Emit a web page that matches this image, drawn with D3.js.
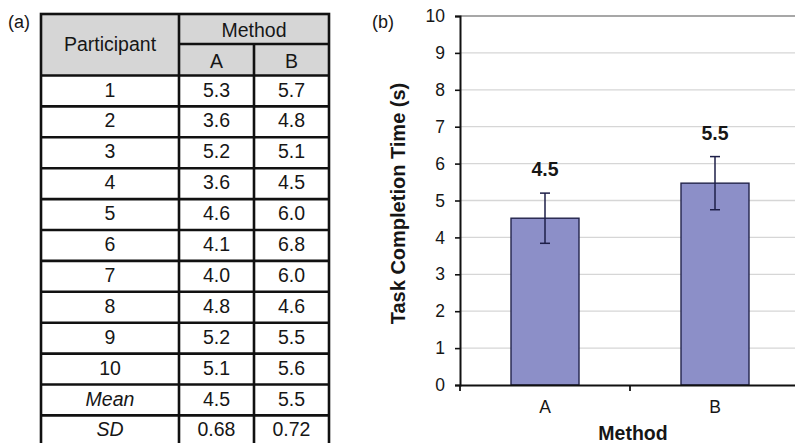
<!DOCTYPE html>
<html>
<head>
<meta charset="utf-8">
<script src="https://cdn.jsdelivr.net/npm/d3@7"></script>
<style>
  html, body { margin: 0; padding: 0; background: #fff; }
  svg { display: block; font-family: "Liberation Sans", Arial, sans-serif; }
</style>
</head>
<body>
<svg id="chart" width="795" height="443"></svg>
<script>
// ---------- data ----------
const rowLabels = ["1", "2", "3", "4", "5", "6", "7", "8", "9", "10", "Mean", "SD"];
const methodAValues = ["5.3", "3.6", "5.2", "3.6", "4.6", "4.1", "4.0", "4.8", "5.2", "5.1", "4.5", "0.68"];
const methodBValues = ["5.7", "4.8", "5.1", "4.5", "6.0", "6.8", "6.0", "4.6", "5.5", "5.6", "5.5", "0.72"];
const methods = ["A", "B"];
const meanValues = [4.52, 5.47];
const sdValues = [0.68, 0.72];
const meanLabels = ["4.5", "5.5"];
const yTickValues = [0, 1, 2, 3, 4, 5, 6, 7, 8, 9, 10];

const svg = d3.select("#chart");

// ---------- (a) table ----------
const tbl = svg.append("g");
const colEdges = [41, 179, 254, 329];
const colKeys = ["P", "A", "B"];
const colLeft = d3.scaleOrdinal().domain(colKeys).range(colEdges.slice(0, 3));
const colRight = d3.scaleOrdinal().domain(colKeys).range(colEdges.slice(1));
const colMid = k => (colLeft(k) + colRight(k)) / 2;

const headTop = 14, headMid = 44, bodyTop = 75.5, rowH = 30.9;
const rowY = d3.scaleBand().domain(rowLabels).range([bodyTop, bodyTop + rowH * rowLabels.length]);

// header fill
tbl.append("rect").attr("x", colEdges[0]).attr("y", headTop)
  .attr("width", colEdges[3] - colEdges[0]).attr("height", bodyTop - headTop)
  .attr("fill", "#d6d6d6");

const lineStyle = sel => sel.attr("stroke", "#111").attr("stroke-width", 2.6).attr("fill", "none");

// horizontal lines
tbl.append("line").attr("x1", colEdges[1]).attr("x2", colEdges[3]).attr("y1", headMid).attr("y2", headMid).call(lineStyle);
tbl.selectAll(".hrow").data(rowLabels).join("line")
  .attr("x1", colEdges[0]).attr("x2", colEdges[3])
  .attr("y1", d => rowY(d)).attr("y2", d => rowY(d)).call(lineStyle);
// vertical lines
tbl.append("line").attr("x1", colEdges[1]).attr("x2", colEdges[1]).attr("y1", headTop).attr("y2", 460).call(lineStyle);
tbl.append("line").attr("x1", colEdges[2]).attr("x2", colEdges[2]).attr("y1", headMid).attr("y2", 460).call(lineStyle);
// outer border
tbl.append("rect").attr("x", colEdges[0]).attr("y", headTop)
  .attr("width", colEdges[3] - colEdges[0]).attr("height", 460 - headTop).call(lineStyle);

const tFont = sel => sel.attr("font-size", 19.5).attr("fill", "#161616").attr("text-anchor", "middle");
tbl.append("text").attr("x", colMid("P")).attr("y", 51).text("Participant").call(tFont);
tbl.append("text").attr("x", (colEdges[1] + colEdges[3]) / 2).attr("y", 36.5).text("Method").call(tFont);
methods.forEach(m => {
  tbl.append("text").attr("x", colMid(m)).attr("y", 67.5).text(m).call(tFont);
});

const rows = rowLabels.map((r, i) => ({ r, a: methodAValues[i], b: methodBValues[i] }));
const rowG = tbl.selectAll(".row").data(rows).join("g");
rowG.append("text").attr("x", colMid("P")).attr("y", d => rowY(d.r) + 21)
  .attr("font-style", d => isNaN(+d.r) ? "italic" : "normal").text(d => d.r).call(tFont);
rowG.append("text").attr("x", colMid("A")).attr("y", d => rowY(d.r) + 21).text(d => d.a).call(tFont);
rowG.append("text").attr("x", colMid("B")).attr("y", d => rowY(d.r) + 21).text(d => d.b).call(tFont);

svg.append("text").attr("x", 8).attr("y", 28).attr("font-size", 18).attr("fill", "#161616").text("(a)");

// ---------- (b) bar chart ----------
svg.append("text").attr("x", 372).attr("y", 28).attr("font-size", 18).attr("fill", "#161616").text("(b)");

const x0 = 460, x1 = 800, yTop = 16, yBot = 385;
const y = d3.scaleLinear().domain([0, 10]).range([yBot, yTop]);
const x = d3.scaleBand().domain(methods).range([x0, x1]).padding(0);
const barW = x.bandwidth() * 0.4;

// gridlines
svg.append("g").selectAll("line").data(yTickValues.filter(v => v > 0)).join("line")
  .attr("x1", x0).attr("x2", 795)
  .attr("y1", d => y(d)).attr("y2", d => y(d))
  .attr("stroke", d => d === 10 ? "#8a8a8a" : "#d6d6d6")
  .attr("stroke-width", d => d === 10 ? 1.6 : 1.3);

// bars
const bars = methods.map((m, i) => ({ m, v: meanValues[i], sd: sdValues[i], label: meanLabels[i] }));
svg.append("g").selectAll("rect").data(bars).join("rect")
  .attr("x", d => x(d.m) + (x.bandwidth() - barW) / 2)
  .attr("width", barW)
  .attr("y", d => y(d.v))
  .attr("height", d => y(0) - y(d.v))
  .attr("fill", "#8c8fc8")
  .attr("stroke", "#22234a")
  .attr("stroke-width", 1.4);

// error bars
const eg = svg.append("g").attr("stroke", "#1e1f48").attr("stroke-width", 1.5);
const cx = d => x(d.m) + x.bandwidth() / 2;
eg.selectAll(".ev").data(bars).join("line")
  .attr("x1", cx).attr("x2", cx)
  .attr("y1", d => y(d.v + d.sd)).attr("y2", d => y(d.v - d.sd));
eg.selectAll(".ct").data(bars).join("line")
  .attr("x1", d => cx(d) - 5).attr("x2", d => cx(d) + 5)
  .attr("y1", d => y(d.v + d.sd)).attr("y2", d => y(d.v + d.sd));
eg.selectAll(".cb").data(bars).join("line")
  .attr("x1", d => cx(d) - 5).attr("x2", d => cx(d) + 5)
  .attr("y1", d => y(d.v - d.sd)).attr("y2", d => y(d.v - d.sd));

// value labels
svg.append("g").selectAll("text").data(bars).join("text")
  .attr("x", cx).attr("y", d => y(d.v + d.sd) - 17)
  .attr("text-anchor", "middle").attr("font-size", 19.5).attr("font-weight", "bold")
  .attr("fill", "#161616").text(d => d.label);

// y axis
const yAxis = svg.append("g").attr("transform", `translate(${x0},0)`)
  .call(d3.axisLeft(y).tickValues(yTickValues).tickSize(5).tickPadding(10));
yAxis.select(".domain").attr("stroke", "#111").attr("stroke-width", 2);
yAxis.selectAll(".tick line").attr("stroke", "#111").attr("stroke-width", 1.6);
yAxis.selectAll(".tick text").attr("font-size", 17.5).attr("fill", "#161616")
  .attr("font-family", "Liberation Sans, Arial, sans-serif");

// x axis
const xAxis = svg.append("g").attr("transform", `translate(0,${yBot})`)
  .call(d3.axisBottom(x).tickSize(0).tickPadding(16));
xAxis.select(".domain").attr("stroke", "#111").attr("stroke-width", 2);
xAxis.selectAll(".tick text").attr("font-size", 17.5).attr("fill", "#161616")
  .attr("font-family", "Liberation Sans, Arial, sans-serif");
// category separator ticks
svg.append("g").selectAll("line").data([x0, ...methods.map(m => x(m) + x.bandwidth())]).join("line")
  .attr("x1", d => d).attr("x2", d => d).attr("y1", yBot).attr("y2", yBot + 6)
  .attr("stroke", "#111").attr("stroke-width", 1.8);

// axis titles
svg.append("text").attr("transform", `translate(405,${(yTop + yBot) / 2 + 3}) rotate(-90)`)
  .attr("text-anchor", "middle").attr("font-size", 20).attr("font-weight", "bold")
  .attr("fill", "#161616").text("Task Completion Time (s)");
svg.append("text").attr("x", 633).attr("y", 440)
  .attr("text-anchor", "middle").attr("font-size", 19.5).attr("font-weight", "bold")
  .attr("fill", "#161616").text("Method");
</script>
</body>
</html>
